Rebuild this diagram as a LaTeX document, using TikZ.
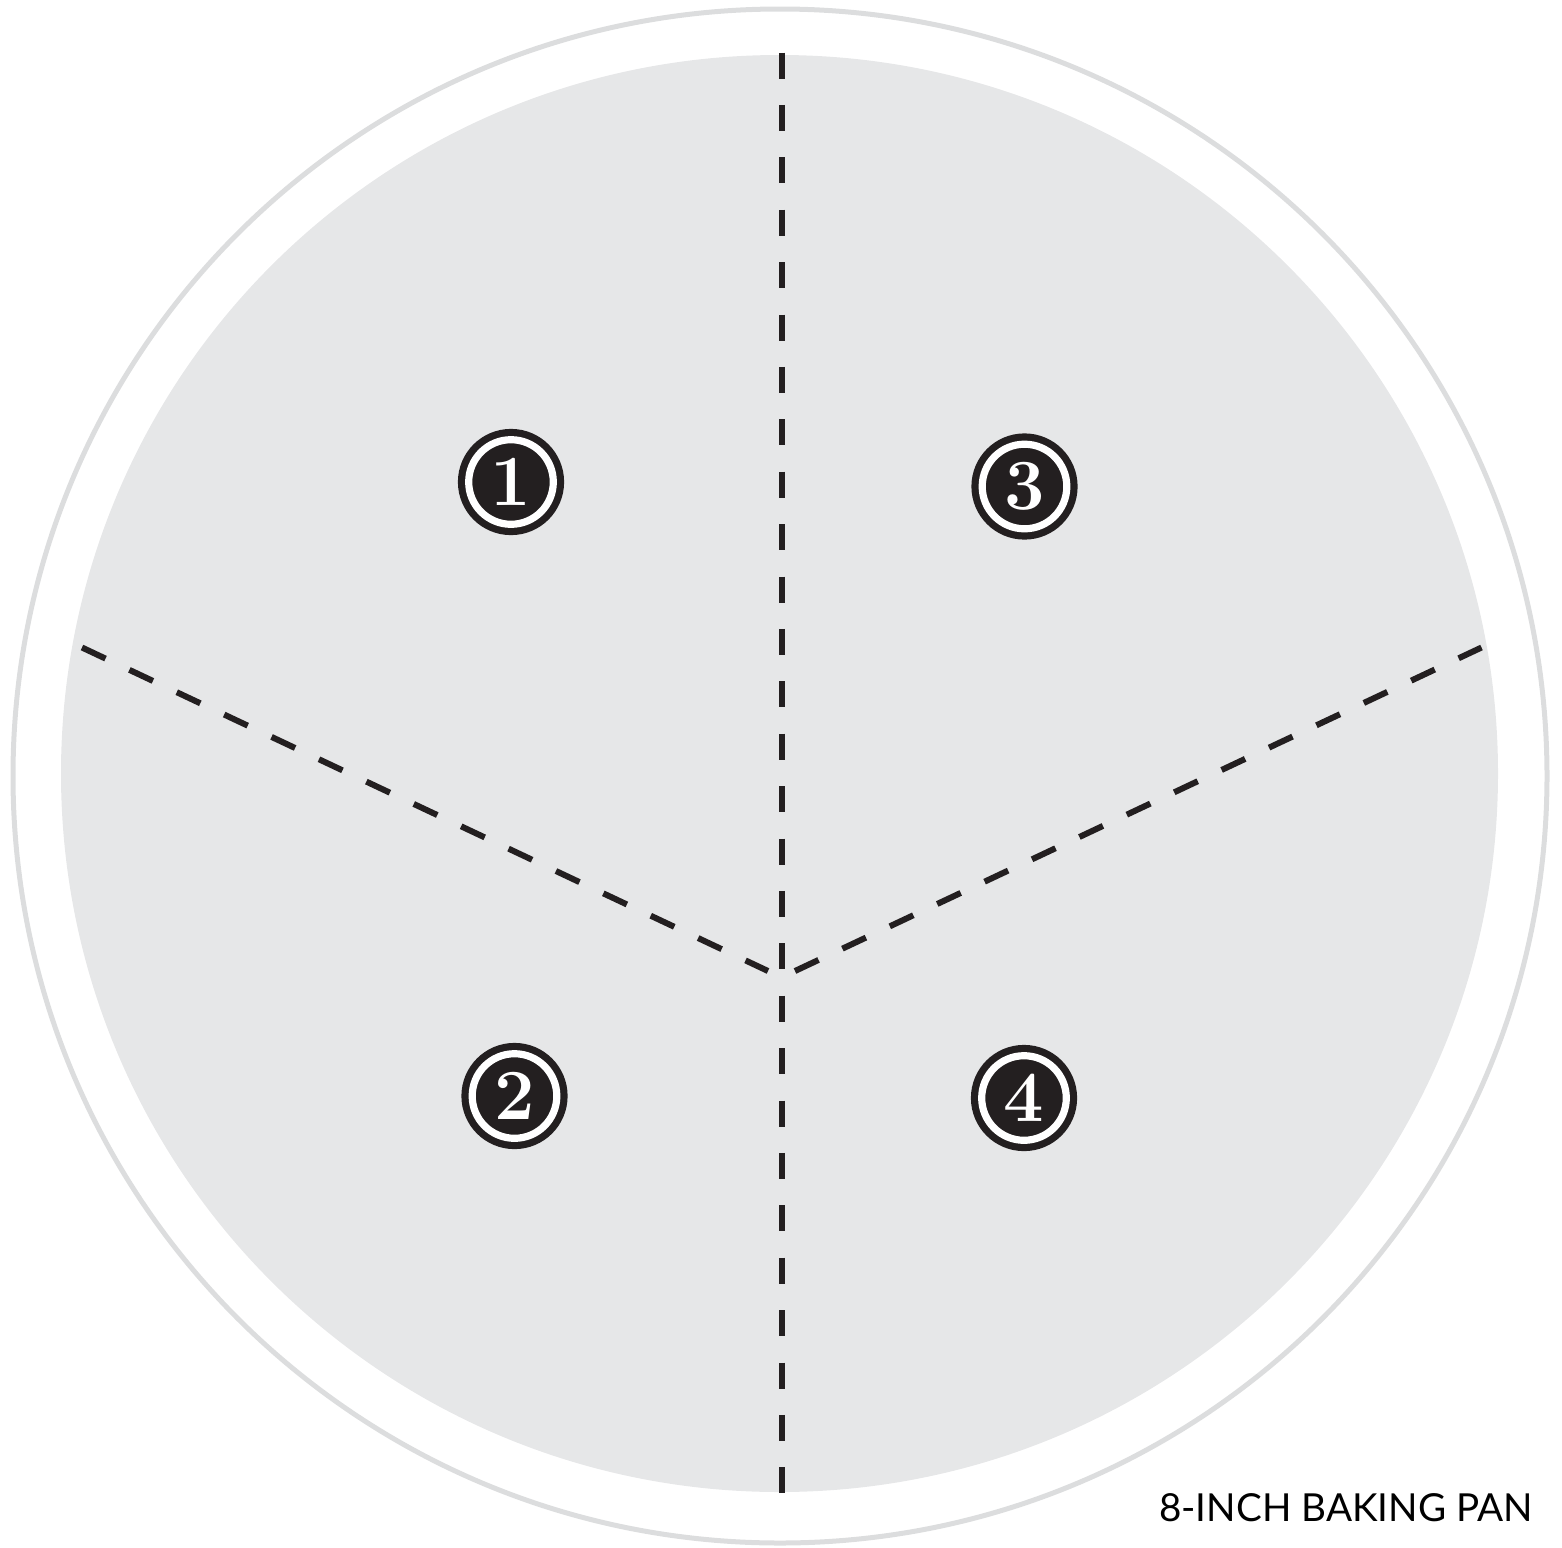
\documentclass[tikz,border=0pt]{standalone}
\usepackage{fontspec}
\newfontfamily\labelfont{Lato}
\definecolor{ink}{HTML}{231F20}
\definecolor{pan}{HTML}{E6E7E8}
\definecolor{rim}{HTML}{DCDDDE}
\begin{document}
\begin{tikzpicture}[x=1pt,y=-1pt,
  cut/.style={ink, line width=6pt, dash pattern=on 26pt off 26.4pt},
  badge/.style={circle, fill=ink, draw=ink, line width=7.2pt, double=white,
    double distance=7.2pt, minimum size=84.6pt, inner sep=0pt, text=white,
    font=\fontsize{72}{72}\selectfont\bfseries},
  caption/.style={anchor=base east, inner sep=0pt, text=black,
    font=\labelfont\fontsize{38.6}{40}\selectfont}]
\useasboundingbox (0,0) rectangle (1562,1547);
% rim and pan
\draw[rim, line width=5pt] (780,776) circle[radius=767pt];
\fill[pan] (779.5,773.5) circle[radius=718.5pt];
% cut lines
\coordinate (vt) at (782,52.5);
\coordinate (vb) at (782,1492.5);
\coordinate (l1) at (82,647.5);
\coordinate (l2) at (768,971);
\coordinate (r1) at (795,971);
\coordinate (r2) at (1481.5,647.5);
\draw[cut] (vt) -- (vb);
\draw[cut] (l1) -- (l2);
\draw[cut] (r1) -- (r2);
% badges
\node[badge] (b1) at (511,482) {1};
\node[badge] (b3) at (1024.5,486.5) {3};
\node[badge] (b2) at (514.5,1096) {2};
\node[badge] (b4) at (1024,1098) {4};
% caption
\node[caption] (cap) at (1533,1521.7) {8-INCH BAKING PAN};
\end{tikzpicture}
\end{document}
